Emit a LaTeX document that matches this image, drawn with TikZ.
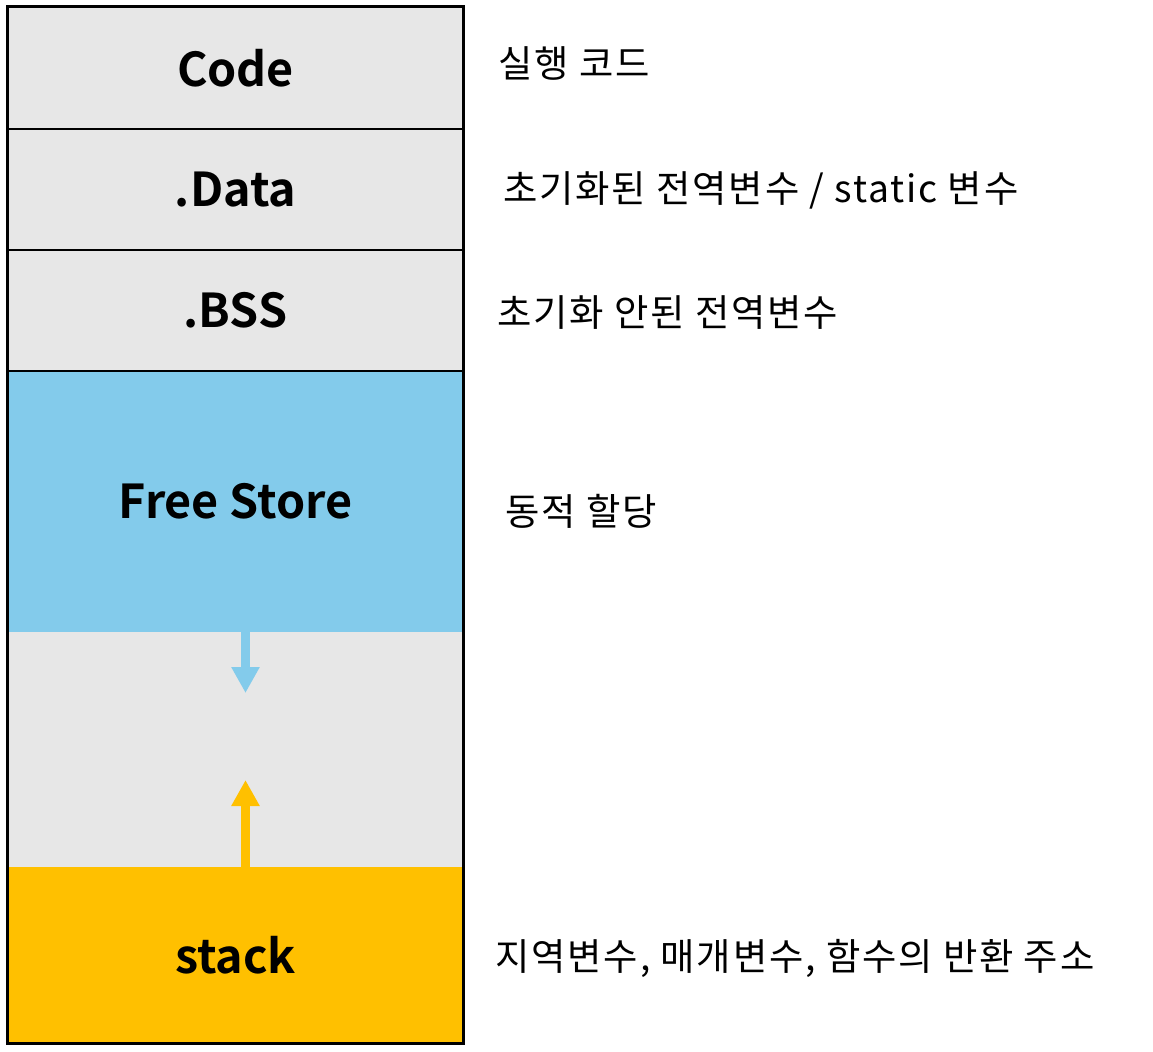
\documentclass[tikz,border=0pt]{standalone}
\usepackage{fontspec}
\setmainfont{Noto Sans CJK KR}[BoldFont={Noto Sans CJK KR Bold}]
\newfontfamily\descfont{Noto Sans CJK KR}[LetterSpace=5]
\usetikzlibrary{arrows.meta}
\definecolor{segGray}{HTML}{E7E7E7}
\definecolor{segBlue}{HTML}{83CBEB}
\definecolor{segGold}{HTML}{FFC000}
\tikzset{
  region/.style={rectangle, inner sep=0pt, minimum width=341.25pt, font=\bfseries\fontsize{35}{40}\selectfont},
  desc/.style={anchor=base west, inner sep=0pt, font=\descfont\fontsize{28}{33}\selectfont},
  divider/.style={line width=1.5pt},
  growarrow/.style={line width=6.75pt, -{Triangle[length=19.5pt, width=20pt]}},
}
\begin{document}
\begin{tikzpicture}[x=0.75pt, y=-0.75pt]
\useasboundingbox (0,0) rectangle (1153,1052);
% regions
\node[region, fill=segGray, minimum height=91.5pt] (code) at (235.5,68) {Code};
\node[region, fill=segGray, minimum height=90.75pt] (data) at (235.5,189.5) {.Data};
\node[region, fill=segGray, minimum height=90.75pt] (bss) at (235.5,310.5) {.BSS};
\node[region, fill=segBlue, minimum height=195.75pt] (heap) at (235.5,501.5) {Free Store};
\node[region, fill=segGray, minimum height=176.25pt] (gap) at (235.5,749.5) {};
\node[region, fill=segGold, minimum height=132pt] (stack) at (235.5,955) {stack};
% dividers
\draw[divider] (code.south west) -- (code.south east);
\draw[divider] (data.south west) -- (data.south east);
\draw[divider] (bss.south west) -- (bss.south east);
% outer frame
\draw[line width=2.25pt] (code.north west) rectangle (stack.south east);
% growth arrows
\coordinate (heapend) at (245.5,693);
\coordinate (stackend) at (245.5,780);
\draw[growarrow, segBlue] (heap.south -| heapend) -- (heapend);
\draw[growarrow, segGold] (stack.north -| stackend) -- (stackend);
% descriptions
\node[desc] (dcode) at (498,78) {실행 코드};
\node[desc] (ddata) at (503,203) {초기화된 전역변수 / static 변수};
\node[desc] (dbss) at (497,326) {초기화 안된 전역변수};
\node[desc] (dheap) at (505,525) {동적 할당};
\node[desc] (dstack) at (495,970) {지역변수, 매개변수, 함수의 반환 주소};
\end{tikzpicture}
\end{document}
